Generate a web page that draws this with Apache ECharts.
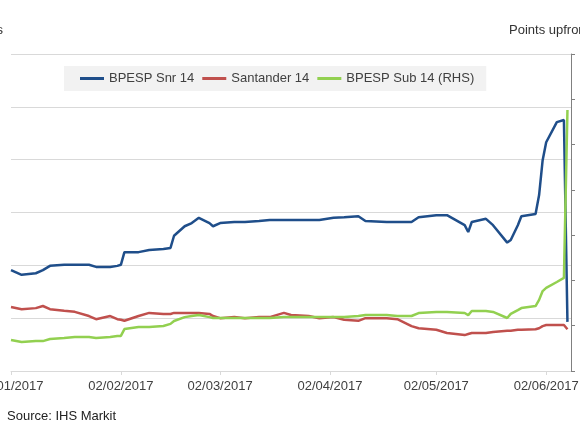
<!DOCTYPE html>
<html>
<head>
    <meta charset="utf-8">
    <title>BPESP CDS</title>
    <script src="https://cdn.jsdelivr.net/npm/echarts@6.0.0/dist/echarts.min.js"></script>
    <style>
        html, body { margin: 0; padding: 0; background: #fff; }
    </style>
</head>
<body>
    <div id="main" style="width: 580px;height:435px;"></div>

    <script type="text/javascript">
        // dates of the readings
        var dates = [
            '2017-01-02', '2017-01-05', '2017-01-09', '2017-01-11', '2017-01-13', '2017-01-17',
            '2017-01-20', '2017-01-24', '2017-01-26', '2017-01-30', '2017-02-01', '2017-02-02',
            '2017-02-03', '2017-02-07', '2017-02-10', '2017-02-14', '2017-02-16', '2017-02-17',
            '2017-02-20', '2017-02-22', '2017-02-24', '2017-02-27', '2017-02-28', '2017-03-02',
            '2017-03-06', '2017-03-09', '2017-03-13', '2017-03-16', '2017-03-20', '2017-03-22',
            '2017-03-27', '2017-03-30', '2017-04-03', '2017-04-06', '2017-04-10', '2017-04-12',
            '2017-04-18', '2017-04-21', '2017-04-25', '2017-04-27', '2017-05-02', '2017-05-05',
            '2017-05-10', '2017-05-11', '2017-05-12', '2017-05-16', '2017-05-18', '2017-05-22',
            '2017-05-23', '2017-05-25', '2017-05-26', '2017-05-30', '2017-05-31', '2017-06-01',
            '2017-06-02', '2017-06-05', '2017-06-07', '2017-06-08'
        ]
        // bps
        var snr = [
            191, 182, 185, 191, 199, 201, 201, 201, 197, 197, 199, 201,
            225, 225, 229, 231, 233, 256, 274, 280, 290, 280, 274, 280,
            282, 282, 284, 286, 286, 286, 286, 286, 290, 291, 293, 284,
            282, 282, 282, 291, 295, 295, 276, 263, 282, 288, 276, 243,
            248, 276, 293, 297, 333, 399, 433, 471, 475, 93
        ]
        var santander = [
            121, 117, 119, 123, 117, 114, 112, 104, 98, 104, 98, 97,
            95, 104, 110, 108, 108, 110, 110, 110, 110, 108, 104, 100,
            102, 100, 102, 102, 110, 106, 104, 100, 102, 97, 95, 100,
            100, 98, 85, 81, 78, 72, 68, 70, 72, 72, 74, 76,
            76, 78, 78, 79, 81, 85, 87, 87, 87, 79
        ]
        // points upfront
        var sub = [
            -6.3, -7.2, -6.8, -6.8, -5.9, -5.4, -5.0, -5.0, -5.4, -5.0, -4.5, -4.5,
            -1.5, -0.6, -0.6, -0.1, 0.8, 2.1, 3.8, 4.3, 4.7, 3.8, 3.4, 3.4,
            3.4, 3.4, 3.4, 3.4, 3.8, 3.8, 3.8, 3.8, 3.8, 3.8, 4.3, 4.7,
            4.7, 4.3, 4.3, 5.6, 6.1, 6.1, 5.6, 4.7, 6.5, 6.5, 6.1, 3.4,
            5.2, 6.9, 7.8, 8.7, 11.4, 15.3, 16.7, 19.3, 21.1, 95.3
        ]
        var tickDates = ['2017-01-02', '2017-02-02', '2017-03-02', '2017-04-02', '2017-05-02', '2017-06-02']

        var toTime = function(s) {
            var p = s.split('-')
            return new Date(+p[0], +p[1] - 1, +p[2]).getTime()
        }

        var pairs = function(values) {
            return values.map(function(v, i) {
                return [toTime(dates[i]), v]
            })
        }

        var pad = function(n) {
            return n < 10 ? '0' + n : '' + n
        }

        var drawChart = function() {
            var myChart = echarts.init(document.getElementById('main'))
            var ticks = tickDates.map(toTime)
            var textColor = '#333'
            var option = {
                animation: false,
                textStyle: {
                    fontFamily: '"Liberation Sans", Arial, sans-serif'
                },
                title: [
                    {
                        text: 'bps',
                        right: 577,
                        top: 24,
                        padding: 0,
                        textStyle: { fontSize: 13, fontWeight: 'normal', color: textColor }
                    },
                    {
                        text: 'Points upfront',
                        left: 509,
                        top: 24,
                        padding: 0,
                        textStyle: { fontSize: 13, fontWeight: 'normal', color: textColor }
                    },
                    {
                        text: 'Source: IHS Markit',
                        left: 7,
                        top: 410,
                        padding: 0,
                        textStyle: { fontSize: 13, fontWeight: 'normal', color: '#222' }
                    }
                ],
                legend: {
                    left: 64,
                    top: 66,
                    backgroundColor: '#f2f2f2',
                    padding: [6, 12, 6, 16],
                    icon: 'rect',
                    itemWidth: 24,
                    itemHeight: 3,
                    itemGap: 8,
                    textStyle: { fontSize: 13, color: '#404040' },
                    data: ['BPESP Snr 14', 'Santander 14', 'BPESP Sub 14 (RHS)']
                },
                grid: {
                    left: 11,
                    right: 9,
                    top: 54,
                    bottom: 64,
                    containLabel: false,
                    outerBoundsMode: 'none'
                },
                xAxis: {
                    // dates as timestamps on a value scale, so ticks can sit on the 2nd of each month
                    type: 'value',
                    min: toTime('2017-01-02'),
                    max: toTime('2017-06-09'),
                    axisLine: { show: true, lineStyle: { color: '#d9d9d9', width: 1 } },
                    axisTick: {
                        show: true,
                        length: 4,
                        customValues: ticks,
                        lineStyle: { color: '#d9d9d9' }
                    },
                    axisLabel: {
                        customValues: ticks,
                        fontSize: 13,
                        color: '#404040',
                        margin: 9,
                        formatter: function(v) {
                            var d = new Date(v)
                            return pad(d.getDate()) + '/' + pad(d.getMonth() + 1) + '/' + d.getFullYear()
                        }
                    },
                    splitLine: { show: false }
                },
                yAxis: [
                    {
                        type: 'value',
                        min: 0,
                        max: 600,
                        interval: 100,
                        axisLine: { show: false },
                        axisTick: { show: false },
                        axisLabel: { show: false },
                        splitLine: { lineStyle: { color: '#d9d9d9', width: 1 } }
                    },
                    {
                        type: 'value',
                        position: 'right',
                        min: -20,
                        max: 120,
                        interval: 20,
                        axisLine: { show: true, lineStyle: { color: '#808080', width: 1 } },
                        axisTick: { show: true, length: 4, lineStyle: { color: '#808080' } },
                        axisLabel: { show: false },
                        splitLine: { show: false }
                    }
                ],
                series: [
                    {
                        name: 'BPESP Snr 14',
                        type: 'line',
                        yAxisIndex: 0,
                        showSymbol: false,
                        color: '#1f4e8a',
                        lineStyle: { width: 2.5 },
                        data: pairs(snr)
                    },
                    {
                        name: 'Santander 14',
                        type: 'line',
                        yAxisIndex: 0,
                        showSymbol: false,
                        color: '#c0504d',
                        lineStyle: { width: 2.5 },
                        data: pairs(santander)
                    },
                    {
                        name: 'BPESP Sub 14 (RHS)',
                        type: 'line',
                        yAxisIndex: 1,
                        showSymbol: false,
                        color: '#92d050',
                        lineStyle: { width: 2.5 },
                        data: pairs(sub)
                    }
                ]
            }
            myChart.setOption(option)
        }

        drawChart()
    </script>
</body>
</html>
